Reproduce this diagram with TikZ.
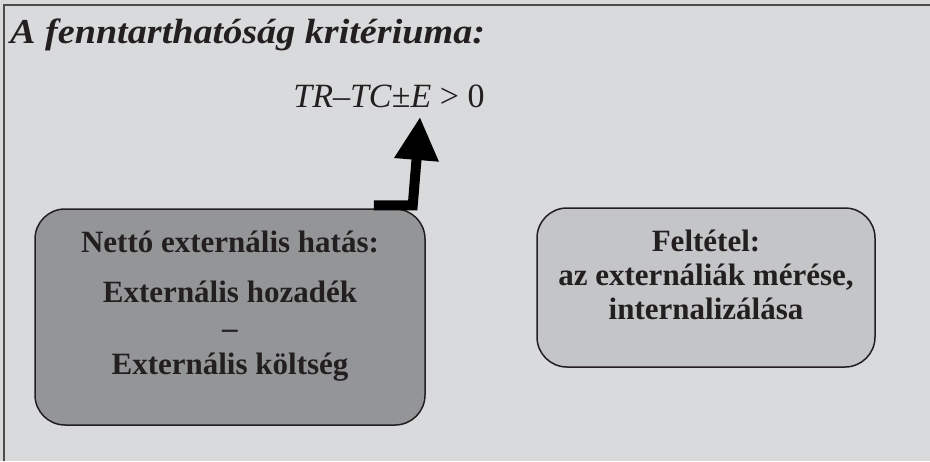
\documentclass[tikz,border=0pt]{standalone}
\usepackage{fontspec}
\setmainfont{Liberation Serif}
\newfontfamily\titlefont{Liberation Serif}[FakeStretch=1.09]
\usepackage{tikz}
\usetikzlibrary{arrows.meta,positioning}

\definecolor{pagebg}{RGB}{217,218,220}
\definecolor{darkbox}{RGB}{148,149,151}
\definecolor{lightbox}{RGB}{196,197,199}
\definecolor{ink}{RGB}{35,31,32}

\begin{document}
\begin{tikzpicture}[x=1pt,y=-1pt,
                    box/.style={draw=ink,line width=1.5pt,rounded corners=30pt,
                                inner sep=0pt},
                    boxtext/.style={align=center,inner sep=0pt,text=ink,
                                    font=\bfseries\fontsize{31}{34}\selectfont},
                    bigarrow/.style={draw=black,line width=10pt,
                                     -{Triangle[length=43pt,width=42pt]}}]
  \useasboundingbox (0,0) rectangle (930,461);
  \fill[pagebg] (0,0) rectangle (930,461);
  \draw[ink!80,line width=2pt] (4,461) -- (4,5) -- (930,5);

  \node[inner sep=0pt,anchor=base west,text=ink,
        font=\titlefont\bfseries\itshape\fontsize{35}{40}\selectfont]
        (title) at (10,43) {A fenntarthatóság kritériuma:};
  \node[inner sep=0pt,anchor=base,text=ink,font=\fontsize{34}{40}\selectfont]
        (formula) at (389,107) {\textit{TR}–\textit{TC}±\textit{E} > 0};

  \node[box,fill=darkbox,minimum width=390pt,minimum height=216pt]
        (netbox) at (230,317) {};
  \node[box,fill=lightbox,minimum width=338pt,minimum height=159pt]
        (condbox) at (706,287.5) {};

  \node[boxtext,font=\bfseries\fontsize{31}{36}\selectfont,anchor=north]
        (nettext) [below=23pt of netbox.north] {Nettó externális hatás:\\[14pt]
        Externális hozadék\\ –\\ Externális költség};
  \node[boxtext,anchor=north] (condtext) [below=23pt of condbox.north]
        {Feltétel:\\ az externáliák mérése,\\ internalizálása};

  \draw[bigarrow] ([xshift=-52pt,yshift=3pt]netbox.north east) -- ++(39,0)
        -- ([xshift=31pt,yshift=-10pt]formula.base);
\end{tikzpicture}
\end{document}
